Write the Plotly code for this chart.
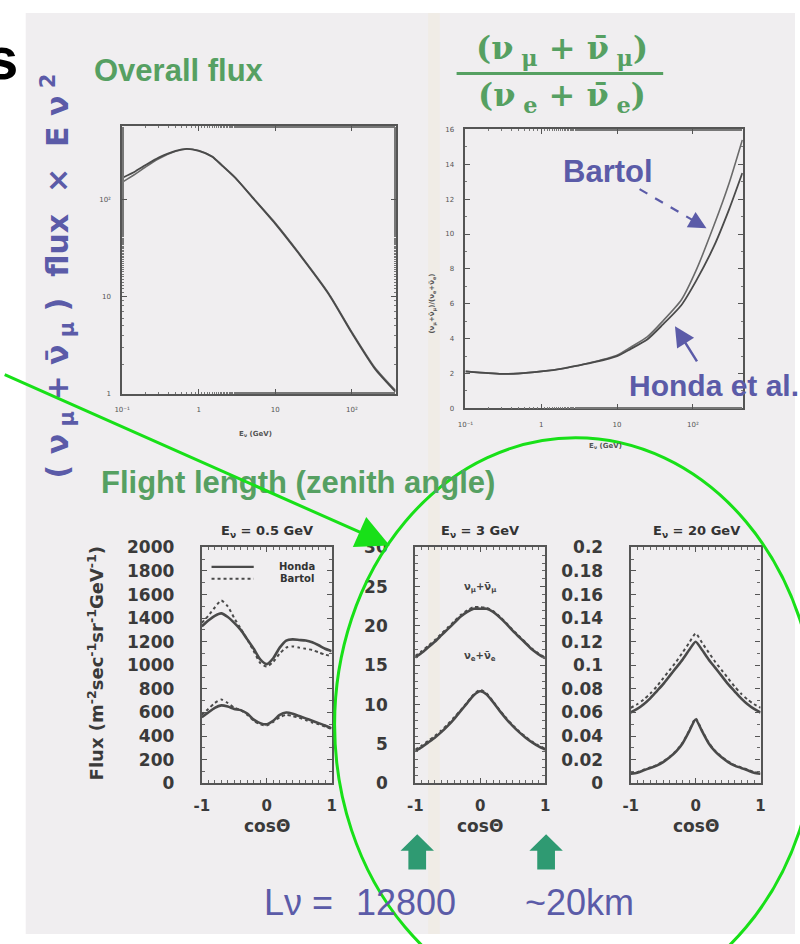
import plotly.graph_objects as go

W, H = 800, 944
def px(x): return x / W
def py(y): return 1 - y / H

# ---------------- data ----------------
flux_E = [0.1, 0.15, 0.2, 0.3, 0.5, 0.7, 1, 1.5, 2, 3, 5, 10, 20, 50, 100, 200, 370]
flux_honda = [166, 195, 224, 269, 316, 331, 316, 275, 224, 166, 105, 56, 28, 10.5, 4.2, 1.8, 1.05]
flux_bartol = [150, 183, 214, 262, 312, 330, 318, 276, 226, 168, 106, 57, 28.5, 10.7, 4.3, 1.85, 1.08]

ratio_E = [0.1, 0.2, 0.3, 0.5, 1, 2, 3, 5, 10, 15, 25, 40, 70, 110, 190, 300, 450]
ratio_honda = [2.12, 2.02, 1.98, 2.0, 2.12, 2.3, 2.45, 2.65, 3.0, 3.4, 3.95, 4.8, 5.9, 7.3, 9.3, 11.4, 13.5]
ratio_bartol = [2.12, 2.02, 1.98, 2.0, 2.12, 2.3, 2.45, 2.67, 3.05, 3.5, 4.1, 5.0, 6.2, 7.9, 10.5, 12.9, 15.4]

cos_theta = [-1.0, -0.9, -0.8, -0.7, -0.6, -0.5, -0.4, -0.3, -0.2, -0.1, 0.0,
             0.1, 0.2, 0.3, 0.4, 0.5, 0.6, 0.7, 0.8, 0.9, 1.0]

# E = 0.5 GeV
a_mu_honda = [1330, 1380, 1420, 1440, 1410, 1360, 1300, 1220, 1140, 1050, 1010,
              1060, 1150, 1210, 1220, 1215, 1210, 1195, 1170, 1140, 1120]
a_mu_bartol = [1360, 1420, 1490, 1550, 1500, 1400, 1310, 1220, 1120, 1020, 990,
               1030, 1100, 1150, 1160, 1150, 1140, 1130, 1110, 1090, 1080]
a_e_honda = [560, 600, 640, 660, 650, 630, 620, 590, 540, 510, 500,
             530, 580, 600, 590, 570, 550, 530, 510, 490, 465]
a_e_bartol = [580, 630, 680, 710, 680, 640, 620, 580, 530, 500, 490,
              520, 560, 580, 570, 555, 535, 515, 500, 480, 460]

# E = 3 GeV
b_mu_honda = [16.0, 16.6, 17.3, 18.0, 18.8, 19.6, 20.4, 21.2, 21.8, 22.2, 22.2,
              22.2, 21.8, 21.1, 20.3, 19.4, 18.6, 17.8, 17.0, 16.4, 15.9]
b_mu_bartol = [16.2, 16.8, 17.5, 18.2, 19.0, 19.8, 20.6, 21.4, 22.0, 22.4, 22.4,
               22.3, 21.9, 21.2, 20.4, 19.5, 18.7, 17.9, 17.1, 16.5, 16.0]
b_e_honda = [4.1, 4.6, 5.2, 5.8, 6.5, 7.3, 8.2, 9.2, 10.2, 11.2, 11.7,
             11.3, 10.3, 9.2, 8.2, 7.3, 6.5, 5.8, 5.2, 4.7, 4.3]
b_e_bartol = [4.3, 4.8, 5.4, 6.0, 6.7, 7.5, 8.4, 9.3, 10.3, 11.3, 11.9,
              11.4, 10.4, 9.3, 8.3, 7.4, 6.6, 5.9, 5.3, 4.8, 4.4]

# E = 20 GeV
c_mu_honda = [0.060, 0.063, 0.067, 0.072, 0.078, 0.084, 0.091, 0.098, 0.105, 0.113, 0.120,
              0.113, 0.105, 0.098, 0.091, 0.084, 0.078, 0.072, 0.067, 0.063, 0.060]
c_mu_bartol = [0.064, 0.067, 0.071, 0.076, 0.082, 0.089, 0.096, 0.103, 0.111, 0.119, 0.127,
               0.119, 0.111, 0.103, 0.096, 0.089, 0.082, 0.076, 0.071, 0.067, 0.064]
c_e_honda = [0.008, 0.009, 0.011, 0.013, 0.015, 0.018, 0.022, 0.027, 0.034, 0.044, 0.054,
             0.044, 0.034, 0.027, 0.022, 0.018, 0.015, 0.013, 0.011, 0.009, 0.008]
c_e_bartol = [0.0085, 0.0095, 0.0115, 0.0135, 0.0155, 0.0185, 0.0225, 0.0275, 0.0345, 0.0445, 0.055,
              0.0445, 0.0345, 0.0275, 0.0225, 0.0185, 0.0155, 0.0135, 0.0115, 0.0095, 0.0085]

# tick labels
top_x_ticks = [0.1, 1, 10, 100]
top_x_text = ["10⁻¹", "1", "10", "10²"]
flux_y_ticks = [1, 10, 100]
flux_y_text = ["1", "10", "10²"]
ratio_y_ticks = [0, 2, 4, 6, 8, 10, 12, 14, 16]
cos_ticks = [-1, 0, 1]
a_y_ticks = [0, 200, 400, 600, 800, 1000, 1200, 1400, 1600, 1800, 2000]
b_y_ticks = [0, 5, 10, 15, 20, 25, 30]
c_y_ticks = [0, 0.02, 0.04, 0.06, 0.08, 0.1, 0.12, 0.14, 0.16, 0.18, 0.2]
c_y_text = ["0", "0.02", "0.04", "0.06", "0.08", "0.1", "0.12", "0.14", "0.16", "0.18", "0.2"]

# ---------------- styles ----------------
LINE = "#4a4a4a"
GREEN = "#56a062"
BLUE = "#5b5ba8"
LIME = "#18e018"
TEAL = "#2f9a72"
SLIDE = "#f0eef0"

fig = go.Figure()

def add(x, y, xa, ya, dash="solid", width=2.4, color=LINE):
    fig.add_trace(go.Scatter(x=x, y=y, xaxis=xa, yaxis=ya, mode="lines",
                             line=dict(color=color, width=width, dash=dash, shape="spline", smoothing=0.6),
                             showlegend=False, hoverinfo="skip"))

add(flux_E, flux_bartol, "x", "y", width=1.6, color="#6a6a6a")
add(flux_E, flux_honda, "x", "y", width=1.8)
add(ratio_E, ratio_bartol, "x2", "y2", width=1.6, color="#6a6a6a")
add(ratio_E, ratio_honda, "x2", "y2", width=1.8)

for xa, ya, series in [("x3", "y3", [a_mu_honda, a_mu_bartol, a_e_honda, a_e_bartol]),
                       ("x4", "y4", [b_mu_honda, b_mu_bartol, b_e_honda, b_e_bartol]),
                       ("x5", "y5", [c_mu_honda, c_mu_bartol, c_e_honda, c_e_bartol])]:
    add(cos_theta, series[0], xa, ya, width=2.6)
    add(cos_theta, series[1], xa, ya, dash="dot", width=2.0)
    add(cos_theta, series[2], xa, ya, width=2.6)
    add(cos_theta, series[3], xa, ya, dash="dot", width=2.0)

def axis_common(**kw):
    d = dict(showline=True, linecolor="#555", linewidth=1.6, mirror="ticks",
             ticks="inside", ticklen=5, tickcolor="#555", showgrid=False, zeroline=False,
             fixedrange=True)
    d.update(kw)
    return d

small = dict(family="DejaVu Sans", size=7, color="#555")
big = dict(family="DejaVu Sans", size=17, color="#3a3a3a", weight="bold")
bigx = dict(family="DejaVu Sans", size=15, color="#3a3a3a", weight="bold")

layout = dict(
    width=W, height=H, margin=dict(l=0, r=0, t=0, b=0),
    paper_bgcolor="white", plot_bgcolor="rgba(0,0,0,0)", showlegend=False,
    xaxis=axis_common(type="log", range=[-1, 2.57], domain=[px(116), px(394)], anchor="y",
                      tickvals=top_x_ticks, ticktext=top_x_text, tickfont=small, ticklabelstandoff=8,
                      minor=dict(ticks="inside", ticklen=2, tickcolor="#777")),
    yaxis=axis_common(type="log", range=[0, 2.75], domain=[py(392), py(119)], anchor="x",
                      tickvals=flux_y_ticks, ticktext=flux_y_text, tickfont=small, ticklabelstandoff=8,
                      minor=dict(ticks="inside", ticklen=2, tickcolor="#777")),
    xaxis2=axis_common(type="log", range=[-1, 2.66], domain=[px(465), px(747)], anchor="y2",
                       tickvals=top_x_ticks, ticktext=top_x_text, tickfont=small, ticklabelstandoff=8,
                       minor=dict(ticks="inside", ticklen=2, tickcolor="#777")),
    yaxis2=axis_common(range=[0, 16], domain=[py(407), py(122)], anchor="x2",
                       tickvals=ratio_y_ticks, tickfont=small, ticklabelstandoff=8,
                       minor=dict(ticks="inside", ticklen=2, dtick=1, tickcolor="#777")),
)

bottom = [("3", 197, 329, [0, 2000], a_y_ticks, None, 100),
          ("4", 414, 546, [0, 30], b_y_ticks, None, 1),
          ("5", 633, 765, [0, 0.2], c_y_ticks, c_y_text, 0.01)]
for n, x0, x1, yr, yt, ytt, mdt in bottom:
    layout["xaxis" + n] = axis_common(range=[-1, 1], domain=[px(x0), px(x1)], anchor="y" + n,
                                      tickvals=cos_ticks, ticktext=["-1", "0", "1"], tickfont=bigx,
                                      linewidth=2.2, ticklabelstandoff=8,
                                      minor=dict(ticks="inside", ticklen=3, dtick=0.1, tickcolor="#666"))
    ya = axis_common(range=yr, domain=[py(790), py(549)], anchor="x" + n, tickvals=yt,
                     tickfont=big, linewidth=2.2, ticklabelstandoff=22,
                     minor=dict(ticks="inside", ticklen=3, dtick=mdt, tickcolor="#666"))
    if ytt:
        ya["ticktext"] = ytt
    layout["yaxis" + n] = ya

fig.update_layout(**layout)

shapes = []
# slide background
shapes.append(dict(type="rect", xref="paper", yref="paper", x0=px(18), x1=1, y0=0, y1=py(3),
                   fillcolor=SLIDE, line=dict(width=0), layer="below"))
shapes.append(dict(type="rect", xref="paper", yref="paper", x0=px(427), x1=px(439), y0=0, y1=py(3),
                   fillcolor="rgba(240,228,180,0.16)", line=dict(width=0), layer="below"))
# fraction bar
shapes.append(dict(type="line", xref="paper", yref="paper", x0=px(456), x1=px(666), y0=py(65), y1=py(65),
                   line=dict(color=GREEN, width=3)))
# legend in first bottom panel
shapes.append(dict(type="line", xref="x3", yref="y3", x0=-0.85, x1=-0.2, y0=1834, y1=1834,
                   line=dict(color=LINE, width=2.2)))
shapes.append(dict(type="line", xref="x3", yref="y3", x0=-0.85, x1=-0.2, y0=1734, y1=1734,
                   line=dict(color=LINE, width=2.0, dash="dot")))
# Bartol dashed arrow shaft
shapes.append(dict(type="line", xref="paper", yref="paper", x0=px(642), y0=py(183), x1=px(700), y1=py(217),
                   line=dict(color=BLUE, width=2.2, dash="dash")))
# ellipse
shapes.append(dict(type="circle", xref="paper", yref="paper",
                   x0=px(577 - 245), x1=px(577 + 245), y0=py(730 + 293), y1=py(730 - 293),
                   line=dict(color=LIME, width=3)))
# teal up arrows
def up_arrow(cx):
    pts = [(cx, 842), (cx + 17, 859), (cx + 9, 859), (cx + 9, 878), (cx - 9, 878), (cx - 9, 859), (cx - 17, 859)]
    path = "M " + " L ".join(f"{px(x):.5f},{py(y):.5f}" for x, y in pts) + " Z"
    return dict(type="path", xref="paper", yref="paper", path=path, fillcolor=TEAL, line=dict(width=0))
shapes.append(up_arrow(416))
shapes.append(up_arrow(547))
fig.update_layout(shapes=shapes)

ann = []
def T(x, y, text, size, color, xanchor="center", yanchor="middle", family="Liberation Sans",
      bold=True, angle=0, **kw):
    ann.append(dict(x=px(x), y=py(y), xref="paper", yref="paper", text=text, showarrow=False,
                    xanchor=xanchor, yanchor=yanchor, textangle=angle,
                    font=dict(size=size, color=color, family=family, weight="bold" if bold else "normal"),
                    **kw))

T(12, 50, "s", 60, "black", xanchor="right", family="Liberation Sans")
T(85, 62, "Overall flux", 31, GREEN, xanchor="left")
T(92, 483, "Flight length (zenith angle)", 31, GREEN, xanchor="left")
T(563, 41, "(ν<sub> μ</sub> + ν̄<sub> μ</sub>)", 32, GREEN, family="DejaVu Serif")
T(563, 89, "(ν<sub> e</sub> + ν̄<sub> e</sub>)", 32, GREEN, family="DejaVu Serif")
T(50, 272, "( ν<sub> μ</sub> + ν̄<sub> μ</sub> )  flux  ×  E ν<sup> 2</sup>", 30, BLUE, angle=-90,
  family="DejaVu Sans")
T(610, 165, "Bartol", 31, BLUE)
T(718, 384, "Honda et al.", 30, BLUE)
T(258, 912, "Lν =", 36, BLUE, xanchor="left", family="Liberation Sans Narrow, Liberation Sans", bold=False)
T(405, 912, "12800", 36, BLUE, family="Liberation Sans Narrow, Liberation Sans", bold=False)
T(581, 912, "~20km", 36, BLUE, family="Liberation Sans Narrow, Liberation Sans", bold=False)

# small axis titles in top panels
T(252, 433, "E<sub>ν</sub> (GeV)", 7, "#555", family="DejaVu Sans")
T(607, 445, "E<sub>ν</sub> (GeV)", 7, "#555", family="DejaVu Sans")
T(432, 300, "(ν<sub>μ</sub>+ν̄<sub>μ</sub>)/(ν<sub>e</sub>+ν̄<sub>e</sub>)", 7, "#555", angle=-90, family="DejaVu Sans")

# bottom panel titles / labels
T(263, 533, "E<sub>ν</sub> = 0.5 GeV", 13, "#333", family="DejaVu Sans")
T(480, 533, "E<sub>ν</sub> = 3 GeV", 13, "#333", family="DejaVu Sans")
T(700, 533, "E<sub>ν</sub> = 20 GeV", 13, "#333", family="DejaVu Sans")
for cx in (263, 480, 699):
    T(cx, 834, "cosΘ", 17, "#3a3a3a", family="DejaVu Sans")
T(89, 668, "Flux (m<sup>-2</sup>sec<sup>-1</sup>sr<sup>-1</sup>GeV<sup>-1</sup>)", 18, "#3a3a3a",
  angle=-90, family="DejaVu Sans")
T(294, 569, "Honda", 10, "#333", family="DejaVu Sans")
T(294, 581, "Bartol", 10, "#333", family="DejaVu Sans")
T(480, 590, "ν<sub>μ</sub>+ν̄<sub>μ</sub>", 10, "#444", family="DejaVu Sans")
T(480, 661, "ν<sub>e</sub>+ν̄<sub>e</sub>", 10, "#444", family="DejaVu Sans")

# arrows
ann.append(dict(x=px(388), y=py(547), xref="paper", yref="paper", ax=-388, ay=-172, text=" ",
                showarrow=True, arrowhead=2, arrowsize=2.2, arrowwidth=3, arrowcolor=LIME, standoff=0))
ann.append(dict(x=px(710), y=py(223), xref="paper", yref="paper", ax=-14, ay=-8, text=" ",
                showarrow=True, arrowhead=2, arrowsize=1.6, arrowwidth=2.2, arrowcolor=BLUE, standoff=0))
ann.append(dict(x=px(678), y=py(323), xref="paper", yref="paper", ax=25, ay=40, text=" ",
                showarrow=True, arrowhead=2, arrowsize=1.6, arrowwidth=2.5, arrowcolor=BLUE, standoff=0))

fig.update_layout(annotations=ann)
fig.write_html("out.html")
